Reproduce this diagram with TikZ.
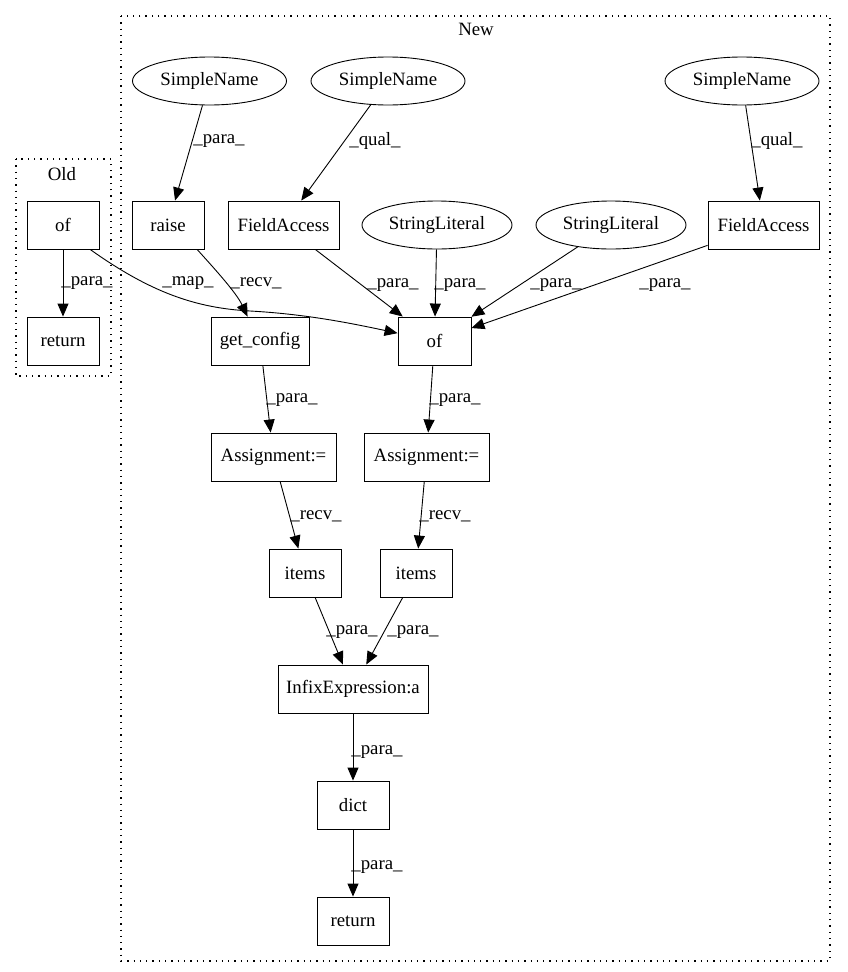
\documentclass[tikz,border=0pt]{standalone}
\usepackage{fontspec}
\setmainfont{Liberation Serif}
\usetikzlibrary{arrows.meta,shapes.geometric}
\begin{document}
\begin{tikzpicture}[x=1pt,y=-1pt,
  font=\fontsize{18.8}{22}\selectfont,
  box/.style={draw,line width=0.9pt,rectangle,minimum width=72pt,minimum height=48pt,inner sep=0pt},
  oval/.style={draw,line width=0.9pt,ellipse,minimum width=154pt,minimum height=48pt,inner sep=0pt},
  edge/.style={line width=0.9pt,-{Triangle[length=13pt,width=11pt]}},
  lab/.style={inner sep=0pt,anchor=center},
  cluster/.style={line width=1.2pt,dash pattern=on 1.3pt off 5pt}]
\useasboundingbox (0,0) rectangle (847,972);
% clusters
\draw[cluster] (16,159) rectangle (111,376);
\node[lab] (oldlab) at (62,174) {Old};
\draw[cluster] (121,16) rectangle (830,961);
\node[lab] (newlab) at (476,29) {New};
% nodes
\node[box] (oldof) at (63,225) {of};
\node[box] (oldret) at (63,341) {return};
\node[oval] (sn1) at (209.5,81) {SimpleName};
\node[oval] (sn2) at (388,81) {SimpleName};
\node[oval] (sn3) at (742,81) {SimpleName};
\node[box] (raise) at (168,225) {raise};
\node[box,minimum width=111pt] (fa1) at (283.5,225) {FieldAccess};
\node[oval,minimum width=150pt] (sl1) at (437,225) {StringLiteral};
\node[oval,minimum width=150pt] (sl2) at (611,225) {StringLiteral};
\node[box,minimum width=111pt] (fa2) at (763.5,225) {FieldAccess};
\node[box,minimum width=98pt] (getc) at (260,341) {get\_config};
\node[box,minimum width=73pt] (ofn) at (434.5,341) {of};
\node[box,minimum width=125pt] (as1) at (273.5,457) {Assignment:=};
\node[box,minimum width=125pt] (as2) at (426.5,457) {Assignment:=};
\node[box] (it1) at (305,573) {items};
\node[box] (it2) at (416,573) {items};
\node[box,minimum width=150pt] (infix) at (353,689) {InfixExpression:a};
\node[box] (dict) at (353,805) {dict};
\node[box] (ret) at (353,921) {return};
% edges
\draw[edge] (oldof) -- (oldret);
\node[lab] (l1) at (87,283) {\_para\_};
\draw[edge] (oldof.-42) .. controls (150,292) and (195,308) .. (250,311)
  .. controls (305,314) and (350,323) .. (ofn.168);
\node[lab] (l2) at (188,283) {\_map\_};
\draw[edge] (sn1) -- (raise);
\node[lab] (l3) at (219,141) {\_para\_};
\draw[edge] (sn2) -- (fa1);
\node[lab] (l4) at (375,141) {\_qual\_};
\draw[edge] (sn3) -- (fa2);
\node[lab] (l5) at (777,141) {\_qual\_};
\draw[edge] (raise.-40) .. controls (212,266) and (236,292) .. (getc.117);
\node[lab] (l6) at (256,283) {\_recv\_};
\draw[edge] (fa1) -- (ofn);
\node[lab] (l7) at (393,285) {\_para\_};
\draw[edge] (sl1) -- (ofn);
\node[lab] (l8) at (460,285) {\_para\_};
\draw[edge] (sl2) -- (ofn);
\node[lab] (l9) at (556,285) {\_para\_};
\draw[edge] (fa2.-160) -- (ofn);
\node[lab] (l10) at (665,285) {\_para\_};
\draw[edge] (getc) -- (as1);
\node[lab] (l11) at (292,400) {\_para\_};
\draw[edge] (ofn) -- (as2);
\node[lab] (l12) at (455,400) {\_para\_};
\draw[edge] (as1) -- (it1);
\node[lab] (l13) at (316,516) {\_recv\_};
\draw[edge] (as2) -- (it2);
\node[lab] (l14) at (445,516) {\_recv\_};
\draw[edge] (it1) -- (infix);
\node[lab] (l15) at (352,632) {\_para\_};
\draw[edge] (it2) -- (infix);
\node[lab] (l16) at (413,632) {\_para\_};
\draw[edge] (infix) -- (dict);
\node[lab] (l17) at (377,752) {\_para\_};
\draw[edge] (dict) -- (ret);
\node[lab] (l18) at (377,867) {\_para\_};
\end{tikzpicture}
\end{document}
